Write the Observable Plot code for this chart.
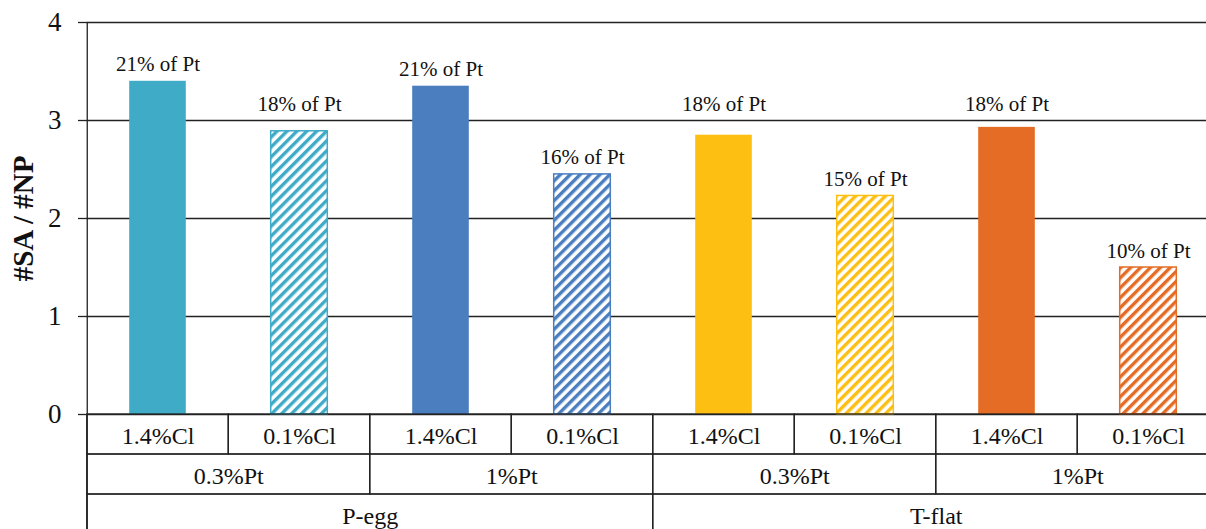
<!DOCTYPE html>
<html>
<head>
<meta charset="utf-8">
<script src="https://cdn.jsdelivr.net/npm/d3@7"></script>
<script src="https://cdn.jsdelivr.net/npm/@observablehq/plot@0.6"></script>
<style>
  html, body { margin: 0; padding: 0; background: white; overflow: hidden; }
  #chart { width: 1206px; height: 529px; overflow: hidden; }
</style>
</head>
<body>
<div id="chart"></div>
<script>
// ---- data ----
const catalysts = ["P-egg", "P-egg", "P-egg", "P-egg", "T-flat", "T-flat", "T-flat", "T-flat"];
const ptLoadings = ["0.3%Pt", "0.3%Pt", "1%Pt", "1%Pt", "0.3%Pt", "0.3%Pt", "1%Pt", "1%Pt"];
const clLoadings = ["1.4%Cl", "0.1%Cl", "1.4%Cl", "0.1%Cl", "1.4%Cl", "0.1%Cl", "1.4%Cl", "0.1%Cl"];
const values = [3.40, 2.89, 3.35, 2.45, 2.85, 2.23, 2.93, 1.50];
const barLabels = ["21% of Pt", "18% of Pt", "21% of Pt", "16% of Pt", "18% of Pt", "15% of Pt", "18% of Pt", "10% of Pt"];
const groupColors = ["#3fabc7", "#4a7ebf", "#fcbf12", "#e46c25"]; // per catalyst+Pt group
const yTicks = [0, 1, 2, 3, 4];
const yTitle = "#SA / #NP";

// ---- derived ----
const PX = 98;              // pixels per y unit (392px frame / 4)
const fontName = "Liberation Serif";
const rows = values.map((v, i) => ({
  i, value: v, label: barLabels[i], cat: catalysts[i], pt: ptLoadings[i], cl: clLoadings[i],
  hatched: clLoadings[i] === "0.1%Cl"
}));
let g = -1, prevKey = null;
rows.forEach(d => {
  const key = d.cat + "|" + d.pt;
  if (key !== prevKey) { g++; prevKey = key; }
  d.group = g;
  d.color = groupColors[g];
  d.fill = d.hatched ? `url(#hatch${g})` : d.color;
  // label baseline ~10px above bar; if that sits just under a gridline, lift it above the line
  let ly = d.value + 10 / PX;
  const hit = yTicks.find(t => t > ly - 10 / PX && t < ly + 16 / PX);
  if (hit !== undefined) ly = hit + 10 / PX;
  d.labelY = ly;
});
function spans(keyFn, labelFn) {
  const out = [];
  rows.forEach(d => {
    const k = keyFn(d);
    const last = out[out.length - 1];
    if (last && last.key === k) last.end = d.i + 1;
    else out.push({key: k, label: labelFn(d), start: d.i, end: d.i + 1});
  });
  return out;
}
const row1 = rows.map(d => ({label: d.cl, start: d.i, end: d.i + 1}));
const row2 = spans(d => d.cat + "|" + d.pt, d => d.pt);
const row3 = spans(d => d.cat, d => d.cat);

const R = 40 / PX;          // table row height in y units
const barFrac = 0.4;        // bar width as a fraction of the category step

function tableRow(data, level, last) {
  const top = -R * level, bottom = last ? -R * (level + 1.5) : -R * (level + 1);
  return [
    Plot.rect(data, {x1: "start", x2: "end", y1: top, y2: bottom, fill: "none", stroke: "#222", strokeWidth: 1.3}),
    Plot.text(data, {x: d => (d.start + d.end) / 2, y: -R * (level + 0.5), text: "label", fontSize: 24, fontFamily: fontName, lineAnchor: "middle", dy: 2, fill: "#111"})
  ];
}

const plot = Plot.plot({
  width: 1206,
  height: 529,
  marginLeft: 87,
  marginRight: 0,
  marginTop: 22,
  marginBottom: 115,
  x: {domain: [0, values.length], range: [86.75, 1218.75], axis: null},
  y: {domain: [0, 4], axis: null},
  marks: [
    Plot.ruleY(yTicks, {x1: 0, x2: values.length, stroke: "#222", strokeWidth: 1.3}),
    Plot.rect(rows, {
      x1: d => d.i + (1 - barFrac) / 2, x2: d => d.i + (1 + barFrac) / 2,
      y1: 0, y2: "value",
      fill: "fill", stroke: d => d.color, strokeWidth: d => d.hatched ? 1.5 : 0
    }),
    Plot.text(rows, {x: d => d.i + 0.5, y: "labelY", text: "label", fontSize: 21, fontFamily: fontName, lineAnchor: "bottom", fill: "#111"}),
    ...tableRow(row1, 0, false),
    ...tableRow(row2, 1, false),
    ...tableRow(row3, 2, true),
    Plot.ruleX([0], {y1: -R * 3.5, y2: 4, stroke: "#222", strokeWidth: 1.3}),
    Plot.axisY({ticks: yTicks, tickSize: 9, tickFormat: () => "", label: null, stroke: "#222", strokeWidth: 1.3}),
    Plot.text(yTicks, {y: d => d, frameAnchor: "left", dx: -26, text: d => String(d), textAnchor: "end", lineAnchor: "middle", fontSize: 27, fontFamily: fontName, fill: "#111"}),
    Plot.text([yTitle], {frameAnchor: "left", dx: -64, rotate: -90, fontSize: 29, fontFamily: fontName, fontWeight: "bold", textAnchor: "middle", lineAnchor: "middle", fill: "#111"})
  ]
});

// hatch patterns
const svgNS = "http://www.w3.org/2000/svg";
const defs = document.createElementNS(svgNS, "defs");
groupColors.forEach((c, k) => {
  const p = document.createElementNS(svgNS, "pattern");
  p.setAttribute("id", "hatch" + k);
  p.setAttribute("patternUnits", "userSpaceOnUse");
  p.setAttribute("width", "7");
  p.setAttribute("height", "7");
  p.setAttribute("patternTransform", "rotate(45)");
  const bg = document.createElementNS(svgNS, "rect");
  bg.setAttribute("width", "7"); bg.setAttribute("height", "7"); bg.setAttribute("fill", "white");
  const st = document.createElementNS(svgNS, "rect");
  st.setAttribute("width", "3.4"); st.setAttribute("height", "7"); st.setAttribute("fill", c);
  p.appendChild(bg); p.appendChild(st);
  defs.appendChild(p);
});
plot.insertBefore(defs, plot.firstChild);

document.getElementById("chart").appendChild(plot);
</script>
</body>
</html>
